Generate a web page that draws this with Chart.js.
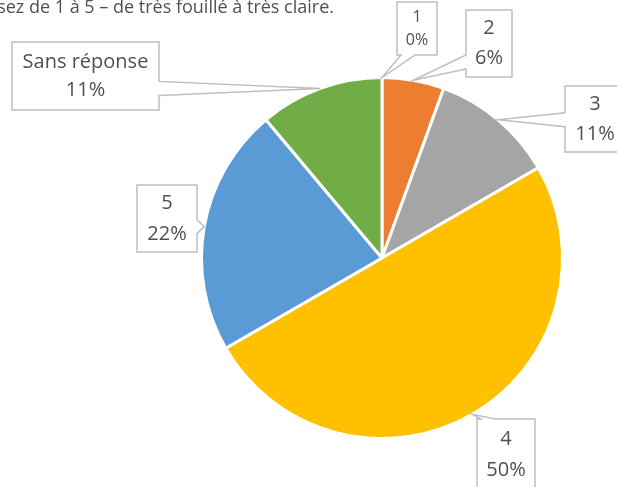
<!DOCTYPE html>
<html>
<head>
<meta charset="utf-8">
<script src="https://cdn.jsdelivr.net/npm/chart.js@4/dist/chart.umd.min.js"></script>
<style>
  html, body { margin: 0; padding: 0; background: #fff; }
  canvas { display: block; }
</style>
</head>
<body>
<canvas id="chart" width="617" height="487"></canvas>
<script>
const titleText = 'Classez de 1 à 5 – de très fouillé à très claire.'
const categories = ['1', '2', '3', '4', '5', 'Sans réponse']
const responses = [0, 1, 2, 9, 4, 2]
const colors = ['#4472C4', '#ED7D31', '#A5A5A5', '#FFC000', '#5B9BD5', '#70AD47']

// callout boxes: x, y, w, h, side the pointer leaves from, font size, line gap
const callouts = [
	{ x: 397, y: 2, w: 40, h: 53, side: 'bottom', size: 16, gap: 23 },
	{ x: 466, y: 10, w: 46, h: 67, side: 'left', size: 20, gap: 30 },
	{ x: 565, y: 86, w: 60, h: 66, side: 'left', size: 20, gap: 30 },
	{ x: 477, y: 419, w: 58, h: 71, side: 'top', size: 20, gap: 31 },
	{ x: 137, y: 185, w: 60, h: 67, side: 'right', size: 20, gap: 31 },
	{ x: 12, y: 42, w: 147, h: 68, side: 'right', size: 20, gap: 28 },
]

const FONT = '"Open Sans", "Liberation Sans", sans-serif'
const TEXT = '#505050'

const clamp = (v, a, b) => Math.max(a, Math.min(b, v))

const calloutPlugin = {
	id: 'callouts',
	afterDraw(chart) {
		const ctx = chart.ctx
		const meta = chart.getDatasetMeta(0)
		const total = responses.reduce((a, b) => a + b, 0)

		// title, cut at the left edge like the original
		ctx.save()
		ctx.font = '18px ' + FONT
		ctx.fillStyle = TEXT
		ctx.textAlign = 'right'
		ctx.textBaseline = 'alphabetic'
		ctx.fillText(titleText, 334, 13)
		ctx.restore()

		meta.data.forEach((arc, i) => {
			const c = callouts[i]
			const p = arc.getProps(['x', 'y', 'startAngle', 'endAngle', 'outerRadius'], true)
			const mid = (p.startAngle + p.endAngle) / 2
			const tx = p.x + Math.cos(mid) * p.outerRadius
			const ty = p.y + Math.sin(mid) * p.outerRadius
			const hw = 7
			const x1 = c.x, y1 = c.y, x2 = c.x + c.w, y2 = c.y + c.h

			ctx.save()
			ctx.beginPath()
			ctx.moveTo(x1, y1)
			if (c.side === 'top') {
				const m = clamp(tx, x1 + hw + 4, x2 - hw - 4)
				ctx.lineTo(m - hw, y1); ctx.lineTo(tx, ty); ctx.lineTo(m + hw, y1)
			}
			ctx.lineTo(x2, y1)
			if (c.side === 'right') {
				const m = clamp(ty, y1 + hw + 4, y2 - hw - 8)
				ctx.lineTo(x2, m - hw); ctx.lineTo(tx, ty); ctx.lineTo(x2, m + hw)
			}
			ctx.lineTo(x2, y2)
			if (c.side === 'bottom') {
				const m = clamp(tx, x1 + hw + 4, x2 - hw - 4)
				ctx.lineTo(m + hw, y2); ctx.lineTo(tx, ty); ctx.lineTo(m - hw, y2)
			}
			ctx.lineTo(x1, y2)
			if (c.side === 'left') {
				const m = clamp(ty, y1 + hw + 4, y2 - hw - 8)
				ctx.lineTo(x1, m + hw); ctx.lineTo(tx, ty); ctx.lineTo(x1, m - hw)
			}
			ctx.closePath()
			ctx.fillStyle = '#fff'
			ctx.fill()
			ctx.strokeStyle = '#BFBFBF'
			ctx.lineWidth = 1.5
			ctx.stroke()

			const pct = Math.round(responses[i] / total * 100) + '%'
			const cx = c.x + c.w / 2
			const cy = c.y + c.h / 2
			ctx.font = c.size + 'px ' + FONT
			ctx.fillStyle = TEXT
			ctx.textAlign = 'center'
			ctx.textBaseline = 'middle'
			ctx.fillText(categories[i], cx, cy - c.gap / 2)
			ctx.fillText(pct, cx, cy + c.gap / 2)
			ctx.restore()
		})
	},
}

const chart = new Chart(document.getElementById('chart'), {
	type: 'pie',
	data: {
		labels: categories,
		datasets: [
			{
				data: responses,
				backgroundColor: colors,
				borderColor: '#ffffff',
				borderWidth: 3,
			},
		],
	},
	options: {
		responsive: false,
		animation: false,
		layout: {
			padding: { left: 200, right: 53, top: 76, bottom: 47 },
		},
		plugins: {
			legend: { display: false },
			tooltip: { enabled: false },
		},
	},
	plugins: [calloutPlugin],
})
</script>
</body>
</html>
